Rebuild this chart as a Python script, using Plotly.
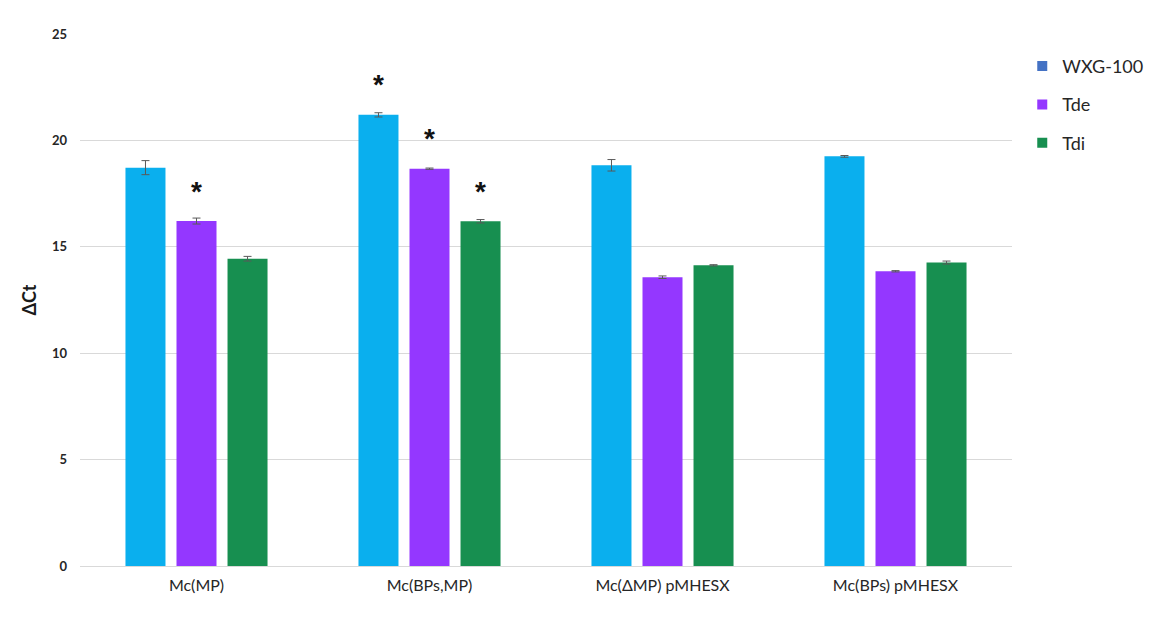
import plotly.graph_objects as go

# Groups and measured ΔCt values (mean ± SD)
categories = ["Mc(MP)", "Mc(BPs,MP)", "Mc(ΔMP) pMHESX", "Mc(BPs) pMHESX"]
series_names = ["WXG-100", "Tde", "Tdi"]

wxg_values = [18.72, 21.20, 18.83, 19.25]
tde_values = [16.21, 18.67, 13.57, 13.85]
tdi_values = [14.44, 16.20, 14.13, 14.26]

wxg_err = [0.33, 0.10, 0.27, 0.04]
tde_err = [0.14, 0.03, 0.06, 0.03]
tdi_err = [0.11, 0.08, 0.03, 0.07]

# Significance markers per series (1 = "*")
wxg_sig = [0, 1, 0, 0]
tde_sig = [1, 1, 0, 0]
tdi_sig = [0, 1, 0, 0]

bar_colors = ["#0AAFEE", "#9437FF", "#178F50"]
legend_colors = ["#4472C4", "#9437FF", "#178F50"]

values = [wxg_values, tde_values, tdi_values]
errors = [wxg_err, tde_err, tdi_err]
sigs = [wxg_sig, tde_sig, tdi_sig]

FONT = "Lato, 'Open Sans', Arial, sans-serif"
TEXT = "#262626"

fig = go.Figure()

for name, vals, errs, col in zip(series_names, values, errors, bar_colors):
    fig.add_trace(go.Bar(
        x=categories, y=vals, name=name,
        marker=dict(color=col, line=dict(width=0)),
        error_y=dict(type="data", array=errs, visible=True,
                     color="#595959", thickness=1, width=4),
        showlegend=False,
    ))

# Legend entries (square swatches)
for i, (name, col) in enumerate(zip(series_names, legend_colors)):
    fig.add_trace(go.Scatter(
        x=[None], y=[None], mode="markers", name=name,
        marker=dict(symbol="square", size=10, color=col),
        legendgroup=f"g{i}", showlegend=True,
    ))

# Plot geometry used to offset the asterisks onto each bar of a group
W, H = 1153, 619
ML, MR, MT, MB = 80, 141, 34, 53
plot_w = W - ML - MR
bargap = 0.343
bargroupgap = 0.216
slot_px = plot_w / len(categories) * (1 - bargap) / len(series_names)

for s, (vals, errs, sg) in enumerate(zip(values, errors, sigs)):
    for c, cat in enumerate(categories):
        if sg[c]:
            fig.add_annotation(
                x=cat, y=vals[c], xref="x", yref="y",
                text="<b>*</b>", showarrow=False,
                font=dict(family="Arial, sans-serif", size=28, color="#111111"),
                xshift=(s - 1) * slot_px, yshift=30,
            )

fig.update_layout(
    width=W, height=H,
    margin=dict(l=ML, r=MR, t=MT, b=MB, autoexpand=False),
    paper_bgcolor="white", plot_bgcolor="white",
    barmode="group", bargap=bargap, bargroupgap=bargroupgap,
    font=dict(family=FONT, color=TEXT),
    legend=dict(
        x=1.011, y=0.974, xanchor="left", yanchor="top",
        font=dict(size=18, color=TEXT, family=FONT),
        tracegroupgap=12, itemwidth=30, bgcolor="rgba(0,0,0,0)",
    ),
)

fig.update_xaxes(
    showline=False, showgrid=False, ticks="", ticklabelstandoff=8,
    tickfont=dict(size=16, color=TEXT, family=FONT),
)
fig.update_yaxes(
    range=[0, 25], tickvals=[0, 5, 10, 15, 20, 25],
    showgrid=True, gridcolor="#D9D9D9", gridwidth=1,
    zeroline=True, zerolinecolor="#D9D9D9", zerolinewidth=1,
    showline=False, ticks="", ticklabelstandoff=12,
    tickfont=dict(size=13, color=TEXT, family=FONT, weight="bold"),
    title=dict(text="<b>ΔCt</b>", font=dict(size=18, color="#1a1a1a", family=FONT), standoff=10),
)

fig.write_html("out.html")
